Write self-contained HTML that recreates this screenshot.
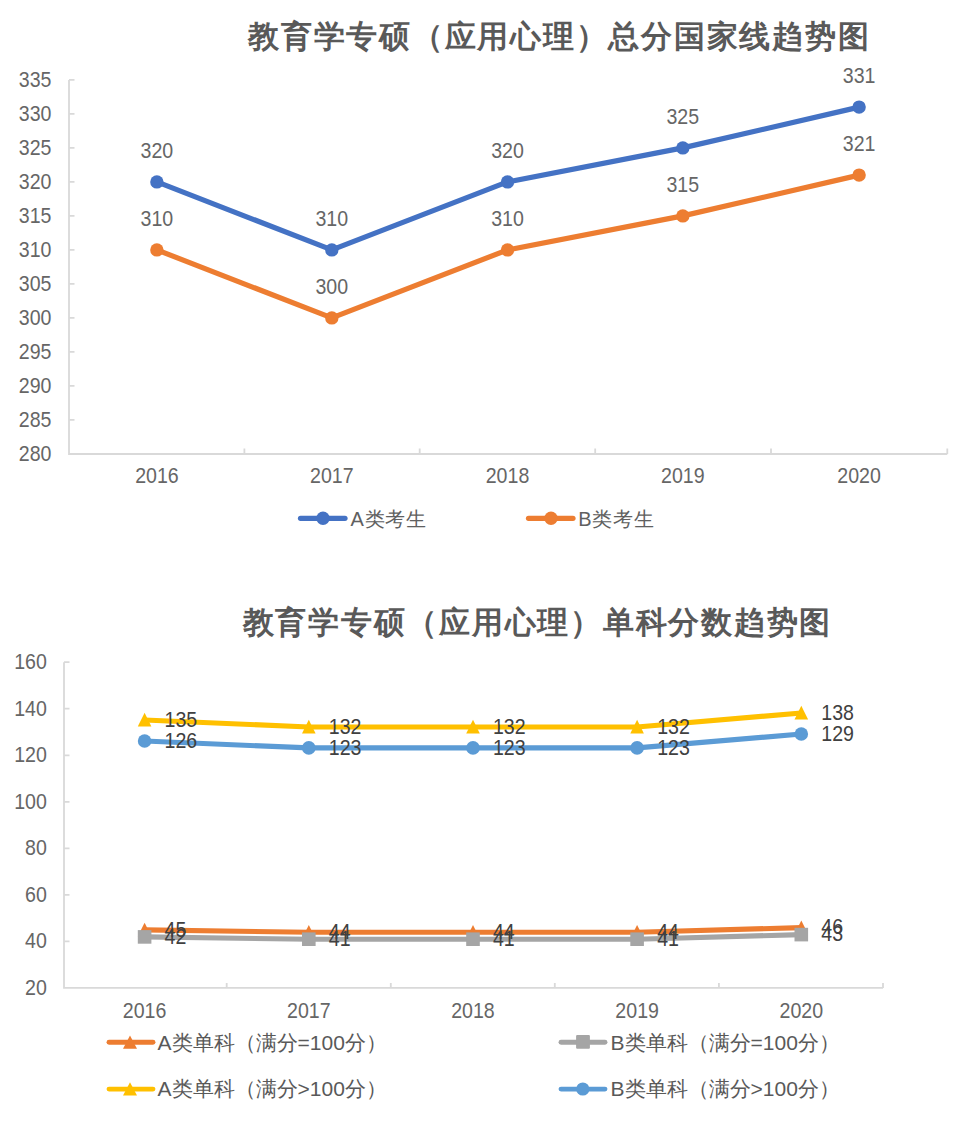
<!DOCTYPE html>
<html><head><meta charset="utf-8">
<style>
html,body{margin:0;padding:0;background:#fff;}
body{width:975px;height:1137px;overflow:hidden;font-family:"Liberation Sans",sans-serif;}
svg{display:block;}
text{font-family:"Liberation Sans",sans-serif;fill:#595959;}
.t{font-size:30.5px;font-weight:bold;letter-spacing:1.75px;}
.n{font-size:22px;}
.er{fill:#666;}
.lg{font-size:21px;fill:#606060;}
</style></head><body>
<svg width="975" height="1137" viewBox="0 0 975 1137">

<text class="t" x="248" y="46.8">教育学专硕（应用心理）总分国家线趋势图</text>
<g stroke="#d9d9d9" stroke-width="1.8" fill="none">
<path d="M69.0 79.9V454.0H947.3"/>
<path d="M69.0 79.9h5.5M69.0 113.9h5.5M69.0 147.9h5.5M69.0 181.9h5.5M69.0 215.9h5.5M69.0 249.9h5.5M69.0 283.9h5.5M69.0 317.9h5.5M69.0 351.9h5.5M69.0 385.9h5.5M69.0 419.9h5.5"/>
<path d="M244.4 454.0v-5.5M419.7 454.0v-5.5M595.2 454.0v-5.5M771.0 454.0v-5.5M947.3 454.0v-5.5"/>
</g>
<text transform="translate(51.50 87.10) scale(0.890 1)" text-anchor="end" class="n er">335</text>
<text transform="translate(51.50 121.10) scale(0.890 1)" text-anchor="end" class="n er">330</text>
<text transform="translate(51.50 155.10) scale(0.890 1)" text-anchor="end" class="n er">325</text>
<text transform="translate(51.50 189.10) scale(0.890 1)" text-anchor="end" class="n er">320</text>
<text transform="translate(51.50 223.10) scale(0.890 1)" text-anchor="end" class="n er">315</text>
<text transform="translate(51.50 257.10) scale(0.890 1)" text-anchor="end" class="n er">310</text>
<text transform="translate(51.50 291.10) scale(0.890 1)" text-anchor="end" class="n er">305</text>
<text transform="translate(51.50 325.10) scale(0.890 1)" text-anchor="end" class="n er">300</text>
<text transform="translate(51.50 359.10) scale(0.890 1)" text-anchor="end" class="n er">295</text>
<text transform="translate(51.50 393.10) scale(0.890 1)" text-anchor="end" class="n er">290</text>
<text transform="translate(51.50 427.10) scale(0.890 1)" text-anchor="end" class="n er">285</text>
<text transform="translate(51.50 461.10) scale(0.890 1)" text-anchor="end" class="n er">280</text>
<text transform="translate(156.90 483.00) scale(0.890 1)" text-anchor="middle" class="n er">2016</text>
<text transform="translate(331.80 483.00) scale(0.890 1)" text-anchor="middle" class="n er">2017</text>
<text transform="translate(507.50 483.00) scale(0.890 1)" text-anchor="middle" class="n er">2018</text>
<text transform="translate(682.80 483.00) scale(0.890 1)" text-anchor="middle" class="n er">2019</text>
<text transform="translate(859.10 483.00) scale(0.890 1)" text-anchor="middle" class="n er">2020</text>
<polyline points="156.9,181.9 331.8,249.9 507.5,181.9 682.8,147.9 859.1,107.1" fill="none" stroke="#4472c4" stroke-width="5.2" stroke-linejoin="round"/>
<circle cx="156.9" cy="181.9" r="6.7" fill="#4472c4"/>
<circle cx="331.8" cy="249.9" r="6.7" fill="#4472c4"/>
<circle cx="507.5" cy="181.9" r="6.7" fill="#4472c4"/>
<circle cx="682.8" cy="147.9" r="6.7" fill="#4472c4"/>
<circle cx="859.1" cy="107.1" r="6.7" fill="#4472c4"/>
<polyline points="156.9,249.9 331.8,317.9 507.5,249.9 682.8,215.9 859.1,175.1" fill="none" stroke="#ed7d31" stroke-width="5.2" stroke-linejoin="round"/>
<circle cx="156.9" cy="249.9" r="6.7" fill="#ed7d31"/>
<circle cx="331.8" cy="317.9" r="6.7" fill="#ed7d31"/>
<circle cx="507.5" cy="249.9" r="6.7" fill="#ed7d31"/>
<circle cx="682.8" cy="215.9" r="6.7" fill="#ed7d31"/>
<circle cx="859.1" cy="175.1" r="6.7" fill="#ed7d31"/>
<text transform="translate(156.90 158.10) scale(0.890 1)" text-anchor="middle" class="n er">320</text>
<text transform="translate(331.80 226.10) scale(0.890 1)" text-anchor="middle" class="n er">310</text>
<text transform="translate(507.50 158.10) scale(0.890 1)" text-anchor="middle" class="n er">320</text>
<text transform="translate(682.80 124.10) scale(0.890 1)" text-anchor="middle" class="n er">325</text>
<text transform="translate(859.10 83.30) scale(0.890 1)" text-anchor="middle" class="n er">331</text>
<text transform="translate(156.90 226.10) scale(0.890 1)" text-anchor="middle" class="n er">310</text>
<text transform="translate(331.80 294.10) scale(0.890 1)" text-anchor="middle" class="n er">300</text>
<text transform="translate(507.50 226.10) scale(0.890 1)" text-anchor="middle" class="n er">310</text>
<text transform="translate(682.80 192.10) scale(0.890 1)" text-anchor="middle" class="n er">315</text>
<text transform="translate(859.10 151.30) scale(0.890 1)" text-anchor="middle" class="n er">321</text>
<g stroke-width="5.2" stroke-linecap="round">
<path d="M300.5 518.3H345" stroke="#4472c4"/><path d="M528.5 518.3H573" stroke="#ed7d31"/>
</g>
<circle cx="323" cy="518.3" r="6.7" fill="#4472c4"/><circle cx="551" cy="518.3" r="6.7" fill="#ed7d31"/>
<text class="lg" x="350.5" y="525.5" style="font-size:20px;letter-spacing:0.8px">A类考生</text><text class="lg" x="578.3" y="525.5" style="font-size:20px;letter-spacing:0.8px">B类考生</text>
<text class="t" x="242.5" y="632.6">教育学专硕（应用心理）单科分数趋势图</text>
<g stroke="#d9d9d9" stroke-width="1.8" fill="none">
<path d="M64.0 662.2V987.9H883.0"/>
<path d="M64.0 662.2h5.5M64.0 708.7h5.5M64.0 755.3h5.5M64.0 801.8h5.5M64.0 848.3h5.5M64.0 894.8h5.5M64.0 941.4h5.5"/>
<path d="M226.7 987.9v-5M390.8 987.9v-5M554.8 987.9v-5M718.9 987.9v-5M883.0 987.9v-5"/>
</g>
<text transform="translate(46.80 669.20) scale(0.890 1)" text-anchor="end" class="n er">160</text>
<text transform="translate(46.80 715.73) scale(0.890 1)" text-anchor="end" class="n er">140</text>
<text transform="translate(46.80 762.26) scale(0.890 1)" text-anchor="end" class="n er">120</text>
<text transform="translate(46.80 808.79) scale(0.890 1)" text-anchor="end" class="n er">100</text>
<text transform="translate(46.80 855.31) scale(0.890 1)" text-anchor="end" class="n er">80</text>
<text transform="translate(46.80 901.84) scale(0.890 1)" text-anchor="end" class="n er">60</text>
<text transform="translate(46.80 948.37) scale(0.890 1)" text-anchor="end" class="n er">40</text>
<text transform="translate(46.80 994.90) scale(0.890 1)" text-anchor="end" class="n er">20</text>
<text transform="translate(144.60 1018.30) scale(0.890 1)" text-anchor="middle" class="n er">2016</text>
<text transform="translate(308.78 1018.30) scale(0.890 1)" text-anchor="middle" class="n er">2017</text>
<text transform="translate(472.96 1018.30) scale(0.890 1)" text-anchor="middle" class="n er">2018</text>
<text transform="translate(637.14 1018.30) scale(0.890 1)" text-anchor="middle" class="n er">2019</text>
<text transform="translate(801.32 1018.30) scale(0.890 1)" text-anchor="middle" class="n er">2020</text>
<polyline points="144.6,929.9 308.8,932.2 473.0,932.2 637.1,932.2 801.3,927.6" fill="none" stroke="#ed7d31" stroke-width="5.1" stroke-linejoin="round"/>
<path d="M144.6 922.7l6.8 13.6h-13.6z" fill="#ed7d31"/>
<path d="M308.8 925.0l6.8 13.6h-13.6z" fill="#ed7d31"/>
<path d="M473.0 925.0l6.8 13.6h-13.6z" fill="#ed7d31"/>
<path d="M637.1 925.0l6.8 13.6h-13.6z" fill="#ed7d31"/>
<path d="M801.3 920.4l6.8 13.6h-13.6z" fill="#ed7d31"/>
<polyline points="144.6,936.9 308.8,939.2 473.0,939.2 637.1,939.2 801.3,934.6" fill="none" stroke="#a5a5a5" stroke-width="5.1" stroke-linejoin="round"/>
<rect x="137.8" y="930.1" width="13.6" height="13.6" fill="#a5a5a5"/>
<rect x="302.0" y="932.4" width="13.6" height="13.6" fill="#a5a5a5"/>
<rect x="466.2" y="932.4" width="13.6" height="13.6" fill="#a5a5a5"/>
<rect x="630.3" y="932.4" width="13.6" height="13.6" fill="#a5a5a5"/>
<rect x="794.5" y="927.8" width="13.6" height="13.6" fill="#a5a5a5"/>
<polyline points="144.6,720.0 308.8,727.0 473.0,727.0 637.1,727.0 801.3,713.0" fill="none" stroke="#ffc000" stroke-width="5.1" stroke-linejoin="round"/>
<path d="M144.6 712.8l6.8 13.6h-13.6z" fill="#ffc000"/>
<path d="M308.8 719.8l6.8 13.6h-13.6z" fill="#ffc000"/>
<path d="M473.0 719.8l6.8 13.6h-13.6z" fill="#ffc000"/>
<path d="M637.1 719.8l6.8 13.6h-13.6z" fill="#ffc000"/>
<path d="M801.3 705.8l6.8 13.6h-13.6z" fill="#ffc000"/>
<polyline points="144.6,741.0 308.8,747.9 473.0,747.9 637.1,747.9 801.3,734.0" fill="none" stroke="#5b9bd5" stroke-width="5.1" stroke-linejoin="round"/>
<circle cx="144.6" cy="741.0" r="6.8" fill="#5b9bd5"/>
<circle cx="308.8" cy="747.9" r="6.8" fill="#5b9bd5"/>
<circle cx="473.0" cy="747.9" r="6.8" fill="#5b9bd5"/>
<circle cx="637.1" cy="747.9" r="6.8" fill="#5b9bd5"/>
<circle cx="801.3" cy="734.0" r="6.8" fill="#5b9bd5"/>
<text transform="translate(164.60 936.50) scale(0.890 1)" text-anchor="start" style="fill:#404040" class="n">45</text>
<text transform="translate(328.78 938.83) scale(0.890 1)" text-anchor="start" style="fill:#404040" class="n">44</text>
<text transform="translate(492.96 938.83) scale(0.890 1)" text-anchor="start" style="fill:#404040" class="n">44</text>
<text transform="translate(657.14 938.83) scale(0.890 1)" text-anchor="start" style="fill:#404040" class="n">44</text>
<text transform="translate(821.32 934.17) scale(0.890 1)" text-anchor="start" style="fill:#404040" class="n">46</text>
<text transform="translate(164.60 943.50) scale(0.890 1)" text-anchor="start" style="fill:#404040" class="n">42</text>
<text transform="translate(328.78 945.83) scale(0.890 1)" text-anchor="start" style="fill:#404040" class="n">41</text>
<text transform="translate(492.96 945.83) scale(0.890 1)" text-anchor="start" style="fill:#404040" class="n">41</text>
<text transform="translate(657.14 945.83) scale(0.890 1)" text-anchor="start" style="fill:#404040" class="n">41</text>
<text transform="translate(821.32 941.16) scale(0.890 1)" text-anchor="start" style="fill:#404040" class="n">43</text>
<text transform="translate(164.60 726.56) scale(0.890 1)" text-anchor="start" style="fill:#404040" class="n">135</text>
<text transform="translate(328.78 733.55) scale(0.890 1)" text-anchor="start" style="fill:#404040" class="n">132</text>
<text transform="translate(492.96 733.55) scale(0.890 1)" text-anchor="start" style="fill:#404040" class="n">132</text>
<text transform="translate(657.14 733.55) scale(0.890 1)" text-anchor="start" style="fill:#404040" class="n">132</text>
<text transform="translate(821.32 719.56) scale(0.890 1)" text-anchor="start" style="fill:#404040" class="n">138</text>
<text transform="translate(164.60 747.55) scale(0.890 1)" text-anchor="start" style="fill:#404040" class="n">126</text>
<text transform="translate(328.78 754.55) scale(0.890 1)" text-anchor="start" style="fill:#404040" class="n">123</text>
<text transform="translate(492.96 754.55) scale(0.890 1)" text-anchor="start" style="fill:#404040" class="n">123</text>
<text transform="translate(657.14 754.55) scale(0.890 1)" text-anchor="start" style="fill:#404040" class="n">123</text>
<text transform="translate(821.32 740.55) scale(0.890 1)" text-anchor="start" style="fill:#404040" class="n">129</text>
<g stroke-width="4.9" stroke-linecap="round">
<path d="M109 1042.3H153" stroke="#ed7d31"/><path d="M561 1042.3H605" stroke="#a5a5a5"/>
<path d="M109 1089.1H153" stroke="#ffc000"/><path d="M561 1089.1H605" stroke="#5b9bd5"/>
</g>
<path d="M130 1035.5l7 13.3h-14z" fill="#ed7d31"/><path d="M130 1082.2l7 13.3h-14z" fill="#ffc000"/>
<rect x="576.1" y="1034.9" width="13.8" height="13.8" rx="1" fill="#a5a5a5"/><circle cx="582.8" cy="1089.0" r="6.6" fill="#5b9bd5"/>
<g class="lg">
<text x="157.5" y="1050">A类单科（满分=100分）</text><text x="610.5" y="1050">B类单科（满分=100分）</text>
<text x="157.5" y="1096">A类单科（满分&gt;100分）</text><text x="610.5" y="1096">B类单科（满分&gt;100分）</text>
</g>
</svg>
</body></html>
